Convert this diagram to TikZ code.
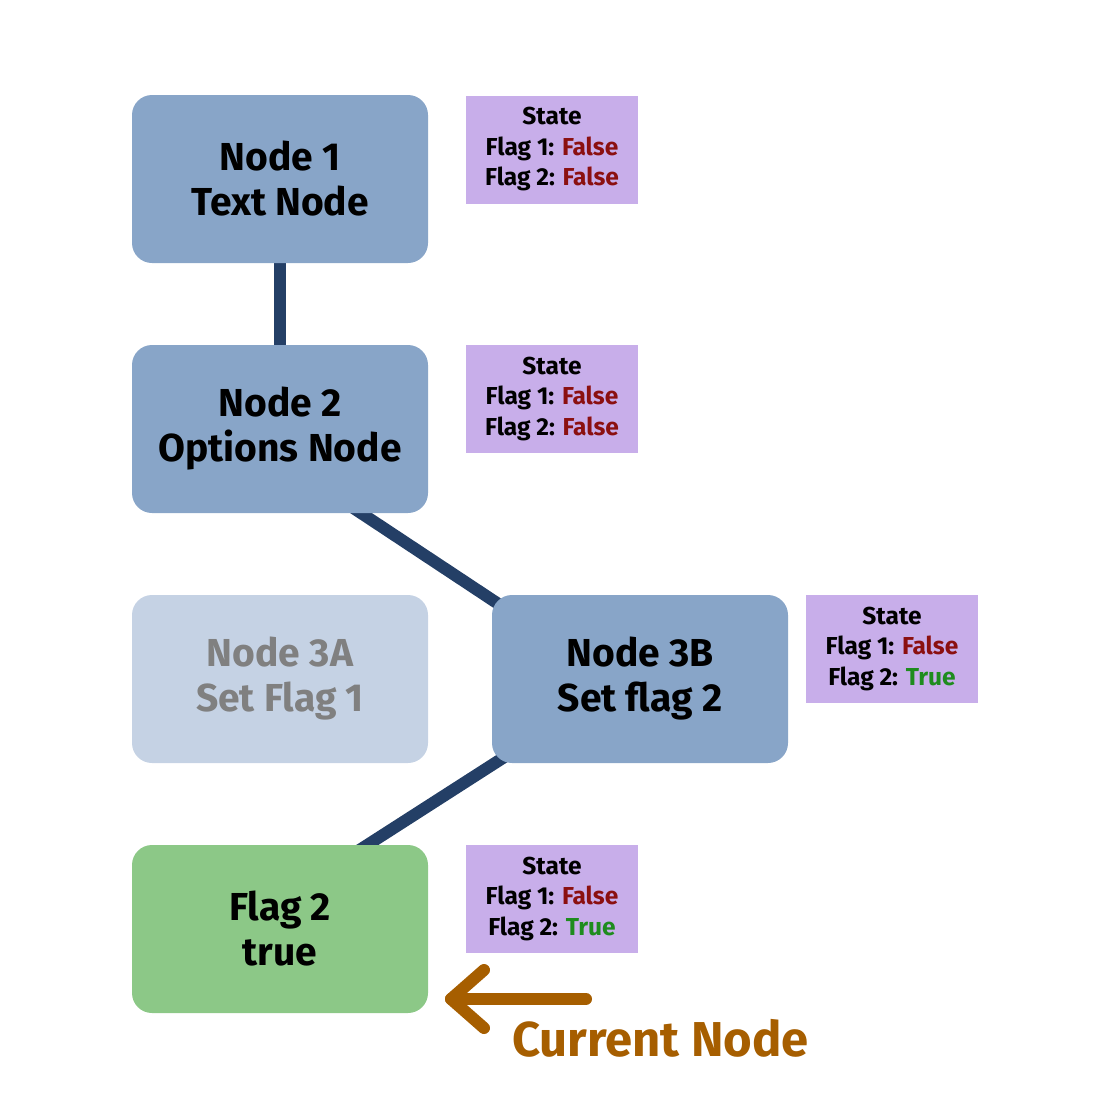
\documentclass[tikz,border=0pt]{standalone}
\usepackage{fontspec}
\setmainfont{Fira Sans}
\usetikzlibrary{backgrounds,calc}
\definecolor{nodeblue}{HTML}{88A5C8}
\definecolor{fadeblue}{HTML}{C5D2E4}
\definecolor{fadetext}{HTML}{808080}
\definecolor{nodegreen}{HTML}{8CC887}
\definecolor{statepurple}{HTML}{C8AEEA}
\definecolor{linkblue}{HTML}{243F66}
\definecolor{falsered}{HTML}{8B1010}
\definecolor{truegreen}{HTML}{1E8C1E}
\definecolor{curorange}{HTML}{A65E00}
\newcommand{\fls}{\textcolor{falsered}{False}}
\newcommand{\tru}{\textcolor{truegreen}{True}}
\begin{document}
\begin{tikzpicture}[x=1pt,y=-1pt,
  flowbox/.style={rounded corners=20pt, minimum width=296pt, minimum height=168pt,
    align=center, inner sep=0pt, font=\fontsize{39}{45}\selectfont\bfseries},
  bluebox/.style={flowbox, fill=nodeblue},
  fadebox/.style={flowbox, fill=fadeblue, text=fadetext},
  greenbox/.style={flowbox, fill=nodegreen},
  statebox/.style={fill=statepurple, minimum width=172pt, minimum height=108pt,
    align=center, inner sep=0pt, font=\fontsize{24.5}{30.5}\selectfont\bfseries},
  link/.style={draw=linkblue, line width=12pt},
  pointer/.style={draw=curorange, line width=12pt, line cap=round, line join=round}]
\useasboundingbox (0,0) rectangle (1100,1108);

\node[bluebox] (n1) at (280,179) {Node 1\\Text Node};
\node[bluebox] (n2) at (280,429) {Node 2\\Options Node};
\node[fadebox] (n3a) at (280,679) {Node 3A\\Set Flag 1};
\node[bluebox] (n3b) at (640,679) {Node 3B\\Set flag 2};
\node[greenbox] (n4) at (280,929) {Flag 2\\true};

\node[statebox] (s1) at (552,149.5) {State\\Flag 1: \fls\\Flag 2: \fls};
\node[statebox] (s2) at (552,399) {State\\Flag 1: \fls\\Flag 2: \fls};
\node[statebox] (s3) at (892,649) {State\\Flag 1: \fls\\Flag 2: \tru};
\node[statebox] (s4) at (552,899) {State\\Flag 1: \fls\\Flag 2: \tru};

\begin{scope}[on background layer]
  \draw[link] (n1.south) -- (n2.north);
  \draw[link] ($(n2.south)+(51,-20)$) -- ($(n3b.north west)+(23,20)$);
  \draw[link] ($(n3b.south west)+(31,-18)$) -- ($(n4.north)+(72,10)$);
\end{scope}

\coordinate (arrtail) at (586,999);
\coordinate (arrtip) at (451,999);
\draw[pointer] (arrtail) -- (arrtip);
\draw[pointer] ($(arrtip)+(33,-29)$) -- (arrtip) -- ($(arrtip)+(33,29)$);
\node[anchor=base west, text=curorange, inner sep=0pt,
  font=\fontsize{49}{55}\selectfont\bfseries] (cur) at (512,1056) {Current Node};
\end{tikzpicture}
\end{document}
